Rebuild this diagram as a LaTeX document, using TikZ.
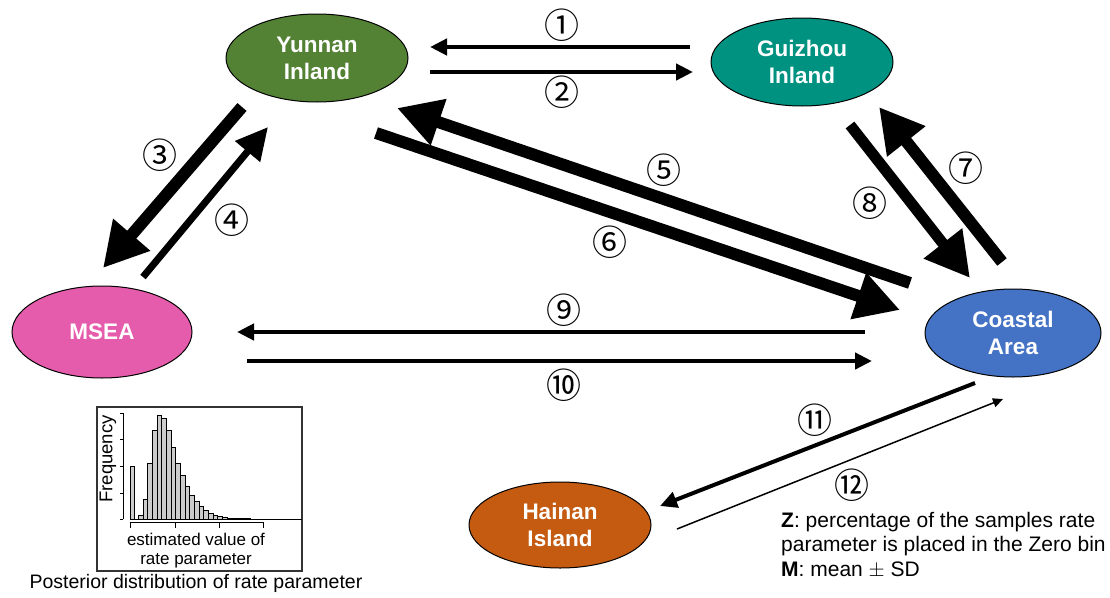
\documentclass[tikz,border=0pt]{standalone}
\usepackage{fontspec}
\setmainfont{Liberation Sans}
\newfontfamily\circfont{Noto Sans CJK SC}
\usepackage{tikz}
\usetikzlibrary{positioning,arrows.meta,shapes.geometric}
\definecolor{yungreen}{RGB}{84,130,53}
\definecolor{guiteal}{RGB}{0,146,128}
\definecolor{mseapink}{RGB}{230,92,172}
\definecolor{coastblue}{RGB}{68,114,196}
\definecolor{haiorange}{RGB}{197,90,17}

\begin{document}
\begin{tikzpicture}[x=1pt,y=-1pt,
  region/.style={ellipse,draw=black,line width=1pt,inner sep=0pt,align=center,
    text=white,font=\fontsize{22.5}{27}\selectfont\bfseries,
    minimum width=182pt,minimum height=88pt},
  num/.style={inner sep=0pt,font=\circfont\fontsize{35}{35}\selectfont},
  fatarr/.style={line width=12pt,-{Triangle[length=44pt,width=46pt]}},
  midarr/.style={line width=7pt,-{Triangle[length=32pt,width=31pt]}},
  thinarr/.style={line width=4.5pt,-{Triangle[length=17pt,width=16pt]}},
  hairarr/.style={line width=1.5pt,-{Triangle[length=10pt,width=9pt]}}
]
  \useasboundingbox (0,0) rectangle (1110,597);

  \node[region,fill=yungreen] (yun) at (317,58) {Yunnan\\Inland};
  \node[region,fill=guiteal] (gui) at (802,62) {Guizhou\\Inland};
  \node[region,fill=mseapink,minimum height=92pt,minimum width=180pt] (msea) at (102,332) {MSEA};
  \node[region,fill=coastblue,minimum width=176pt] (coast) at (1013,333) {Coastal\\Area};
  \node[region,fill=haiorange,minimum height=86pt] (hai) at (560,525) {Hainan\\Island};

  \coordinate (a1s) at (690,47);  \coordinate (a1e) at (430,47);
  \coordinate (a2s) at (430,72);  \coordinate (a2e) at (693,72);
  \coordinate (a3s) at (242,107); \coordinate (a3e) at (103,268);
  \coordinate (a4s) at (143,277); \coordinate (a4e) at (268,127);
  \coordinate (a5s) at (910,283); \coordinate (a5e) at (397,108);
  \coordinate (a6s) at (376,133); \coordinate (a6e) at (900,310);
  \coordinate (a7s) at (1002,262); \coordinate (a7e) at (879,107);
  \coordinate (a8s) at (850,125); \coordinate (a8e) at (970,278);
  \coordinate (a9s) at (865,332); \coordinate (a9e) at (237,332);
  \coordinate (a10s) at (247,361); \coordinate (a10e) at (872,361);
  \coordinate (a11s) at (975,383); \coordinate (a11e) at (660,506);
  \coordinate (a12s) at (677,529); \coordinate (a12e) at (1003,399);

  \draw[thinarr] (a1s) -- (a1e);
  \draw[thinarr] (a2s) -- (a2e);
  \draw[fatarr] (a3s) -- (a3e);
  \draw[midarr] (a4s) -- (a4e);
  \draw[fatarr] (a5s) -- (a5e);
  \draw[fatarr] (a6s) -- (a6e);
  \draw[fatarr] (a7s) -- (a7e);
  \draw[fatarr,line width=11pt] (a8s) -- (a8e);
  \draw[thinarr] (a9s) -- (a9e);
  \draw[thinarr] (a10s) -- (a10e);
  \draw[thinarr,line width=4pt] (a11s) -- (a11e);
  \draw[hairarr] (a12s) -- (a12e);

  \node[num] (n1) at (562,25) {①};
  \node[num] (n2) at (562,92) {②};
  \node[num] (n3) at (160,155) {③};
  \node[num] (n4) at (232,220) {④};
  \node[num] (n5) at (664,170) {⑤};
  \node[num] (n6) at (610,242) {⑥};
  \node[num] (n7) at (966,168) {⑦};
  \node[num] (n8) at (870,203) {⑧};
  \node[num] (n9) at (564,310) {⑨};
  \node[num] (n10) at (564,385) {⑩};
  \node[num] (n11) at (815,420) {⑪};
  \node[num] (n12) at (852,485) {⑫};

  % posterior histogram
  \draw[line width=1.5pt,draw=black!80] (97,407) rectangle (302,571);
  \draw[line width=0.8pt] (120,413) -- (123,413) -- (123,519)
    foreach \y in {439,466,493,519} {(120,\y) -- (123,\y)};
  \draw[line width=0.8pt] (130,522) -- (263,522)
    foreach \x in {130,175,219,263} {(\x,522) -- (\x,528)};
  \draw[fill=gray!40,line width=0.7pt] (130,519) rectangle (134.3,466);
  \foreach \t [count=\i from 0] in {515.7,499,463.3,430.7,415,418.3,430,447.3,463.3,475,
      486.7,495,501.7,506.7,510,513.3,515,516.7,517.3,518,518.2,518.4,518.5,518.6}
    \draw[fill=gray!40,line width=0.7pt] ({138.3+4.67*\i},519) rectangle ({138.3+4.67*(\i+1)},\t);
  \draw[line width=1pt] (130,519) -- (302,519);
  \node[rotate=90,font=\fontsize{18.5}{18.5}\selectfont] (freq) at (108,459) {Frequency};
  \node[align=center,font=\fontsize{17}{19}\selectfont] (xlab) at (196,551)
    {estimated value of\\rate parameter};
  \node[font=\fontsize{19.5}{22}\selectfont] (caption) at (196,583)
    {Posterior distribution of rate parameter};

  \node[anchor=north west,align=left,inner sep=0pt,
    font=\fontsize{21}{24.5}\selectfont] (legend) at (781,512)
    {\textbf{Z}: percentage of the samples rate\\
     parameter is placed in the Zero bin\\
     \textbf{M}: mean $\pm$ SD};
\end{tikzpicture}
\end{document}
